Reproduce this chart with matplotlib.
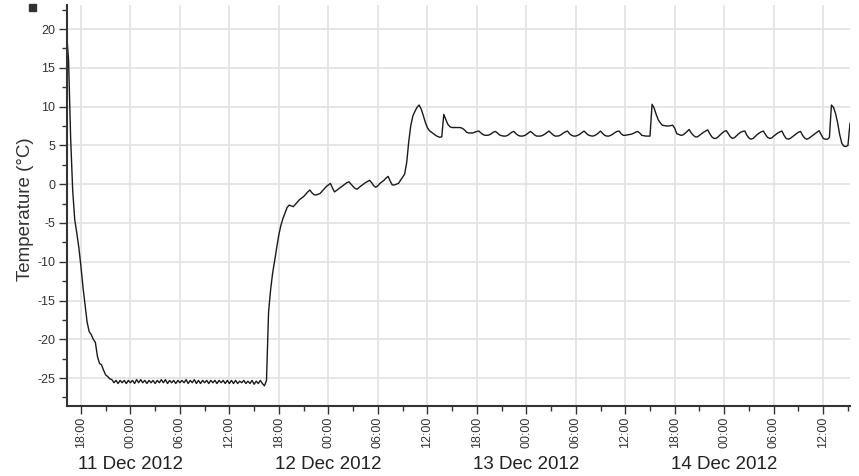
import matplotlib.pyplot as plt
import matplotlib.dates as mdates
from matplotlib.patches import Rectangle
import pandas as pd

plt.rcParams['font.family'] = ['Liberation Sans', 'DejaVu Sans']
plt.rcParams['axes.unicode_minus'] = False

# logger readings, one every 15 min starting 11 Dec 2012 16:15
start = '2012-12-11 16:15'
temps = [
    19.7, 16.0, 6.0, -0.8, -4.6, -6.3, -8.2, -10.6,            # 16:15
    -13.3, -15.6, -17.8, -19.0, -19.4, -20.0, -20.4, -22.2,    # 18:15
    -23.1, -23.3, -24.0, -24.6, -24.8, -25.1, -25.2, -25.6,    # 20:15
    -25.3, -25.7, -25.3, -25.6, -25.3, -25.7, -25.3, -25.6,    # 22:15
    -25.3, -25.7, -25.2, -25.6, -25.2, -25.6, -25.3, -25.7,    # 12 Dec 00:15
    -25.3, -25.6, -25.3, -25.7, -25.3, -25.6, -25.2, -25.6,
    -25.2, -25.7, -25.3, -25.6, -25.3, -25.7, -25.3, -25.6,
    -25.3, -25.6, -25.2, -25.7, -25.3, -25.6, -25.2, -25.7,
    -25.3, -25.7, -25.3, -25.6, -25.3, -25.7, -25.3, -25.6,
    -25.3, -25.7, -25.3, -25.6, -25.3, -25.7, -25.3, -25.7,
    -25.3, -25.7, -25.3, -25.7, -25.4, -25.6, -25.3, -25.7,
    -25.4, -25.7, -25.3, -25.8, -25.4, -25.7, -25.3, -25.7,    # 12 Dec 14:15
    -26.0, -25.3, -16.5, -13.6, -11.4, -9.8, -8.1, -6.5,       # door open
    -5.3, -4.4, -3.7, -3.0, -2.7, -2.8, -2.9, -2.6,
    -2.3, -2.0, -1.8, -1.6, -1.3, -1.0, -0.75, -1.1,
    -1.35, -1.4, -1.3, -1.2, -0.9, -0.6, -0.3, -0.1,
    0.1, -0.5, -1.0, -0.8, -0.6, -0.4, -0.2, 0.0,              # 13 Dec 00:15
    0.2, 0.3, 0.0, -0.3, -0.55, -0.65, -0.4, -0.2,
    0.0, 0.2, 0.35, 0.5, 0.2, -0.2, -0.4, -0.2,
    0.1, 0.3, 0.5, 0.8, 1.0, 0.4, -0.1, -0.1,
    0.0, 0.1, 0.5, 0.9, 1.3, 2.8, 5.5, 7.6,
    8.8, 9.4, 9.9, 10.2, 9.7, 8.9, 8.0, 7.3,
    6.9, 6.7, 6.5, 6.3, 6.15, 6.05, 6.1, 9.0,
    8.3, 7.7, 7.4, 7.3, 7.3, 7.3, 7.3, 7.3,
    7.2, 7.0, 6.7, 6.6, 6.6, 6.6, 6.7, 6.8,                    # 14 Dec 00:15
    6.85, 6.6, 6.4, 6.3, 6.3, 6.35, 6.5, 6.7,
    6.8, 6.6, 6.35, 6.25, 6.2, 6.2, 6.3, 6.5,
    6.7, 6.8, 6.5, 6.3, 6.2, 6.2, 6.25, 6.4,
    6.6, 6.8, 6.6, 6.35, 6.2, 6.2, 6.2, 6.3,
    6.45, 6.65, 6.85, 6.6, 6.35, 6.2, 6.2, 6.25,
    6.4, 6.6, 6.75, 6.85, 6.5, 6.3, 6.2, 6.2,
    6.3, 6.45, 6.65, 6.85, 6.6, 6.35, 6.25, 6.2,
    6.25, 6.4, 6.6, 6.85, 6.55, 6.3, 6.2, 6.2,                 # 15 Dec 00:15
    6.3, 6.45, 6.65, 6.8, 6.85, 6.5, 6.3, 6.3,
    6.35, 6.4, 6.45, 6.55, 6.7, 6.8, 6.6, 6.3,
    6.25, 6.2, 6.2, 6.2, 10.3, 9.8, 9.0, 8.3,
    7.9, 7.6, 7.55, 7.5, 7.5, 7.55, 7.6, 7.2,
    6.5, 6.4, 6.3, 6.35, 6.55, 6.8, 7.05, 6.6,
    6.3, 6.1, 6.1, 6.3, 6.5, 6.7, 6.85, 7.0,
    6.5, 6.1, 5.9, 5.9, 6.1, 6.35, 6.6, 6.8,
    6.9, 6.5, 6.1, 5.9, 6.0, 6.25, 6.5, 6.7,                   # 16 Dec 00:15
    6.8, 6.85, 6.3, 5.95, 5.8, 5.9, 6.15, 6.4,
    6.6, 6.75, 6.85, 6.4, 6.05, 5.9, 5.95, 6.2,
    6.4, 6.6, 6.75, 6.85, 6.3, 5.9, 5.8, 5.9,
    6.1, 6.3, 6.5, 6.7, 6.8, 6.3, 5.95, 5.8,
    5.9, 6.1, 6.3, 6.5, 6.7, 6.9, 6.4, 5.9,
    5.8, 5.8, 6.0, 10.2, 9.9, 9.1, 7.9, 6.4,
    5.3, 4.9, 4.85, 5.0, 7.85,
]
assert len(temps) == 381, len(temps)
times = pd.date_range(start, periods=len(temps), freq='15min')

day_labels = ['11 Dec 2012', '12 Dec 2012', '13 Dec 2012', '14 Dec 2012']
day_marks = pd.to_datetime(['2012-12-12', '2012-12-13', '2012-12-14', '2012-12-15'])

fig = plt.figure(figsize=(8.59, 4.76), dpi=100)
ax = fig.add_axes([66.5 / 859, 70 / 476, (850 - 66.5) / 859, (406 - 5) / 476])

ax.plot(times, temps, color='#1a1a1a', lw=1.0)
ax.set_xlim(times[0], times[-1])
ax.set_ylim(-28.6, 23.1)

ax.xaxis.set_major_locator(mdates.HourLocator(byhour=[0, 6, 12, 18]))
ax.xaxis.set_minor_locator(mdates.HourLocator(byhour=[3, 9, 15, 21]))
ax.xaxis.set_major_formatter(mdates.DateFormatter('%H:%M'))
ax.set_yticks(range(-25, 21, 5))
ax.set_yticks([v + 2.5 for v in range(-30, 21, 5)], minor=True)
plt.setp(ax.get_xticklabels(), rotation=90)

ax.grid(True, which='major', color='#e2e2e2', lw=1.2)
ax.set_axisbelow(True)
for s in ['top', 'right']:
    ax.spines[s].set_visible(False)
for s in ['left', 'bottom']:
    ax.spines[s].set_color('#333333')
    ax.spines[s].set_linewidth(1.5)

ax.tick_params(which='major', length=6, width=1, color='#333333',
               labelsize=9, labelcolor='#333333', pad=2)
ax.tick_params(which='minor', length=3.5, width=1, color='#333333')

ax.set_ylabel('Temperature (°C)', fontsize=13.5, color='#333333')
ax.yaxis.set_label_coords(-0.041, 0.49)

# day names under the hour ticks
for d, lab in zip(day_marks, day_labels):
    ax.annotate(lab, xy=(d, 0), xycoords=('data', 'axes fraction'),
                xytext=(0, -45.5), textcoords='offset points',
                ha='center', va='baseline', fontsize=13.5, color='#222222')

fig.add_artist(Rectangle((29 / 859, 465 / 476), 7 / 859, 7 / 476,
                         transform=fig.transFigure, color='#333333'))

fig.savefig('out.png', dpi=100)
